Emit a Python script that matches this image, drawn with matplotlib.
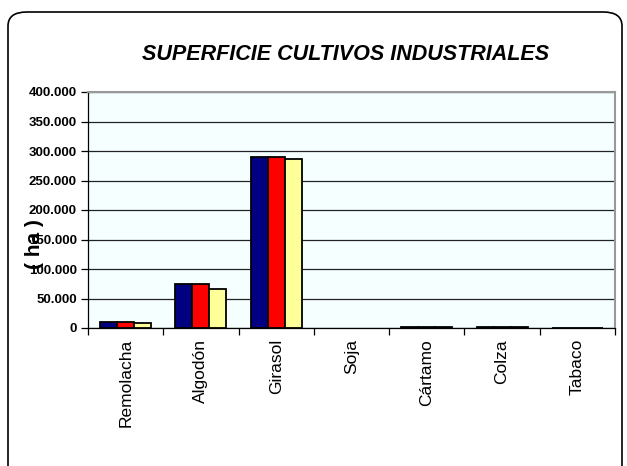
import numpy as np
import matplotlib.pyplot as plt
from matplotlib.patches import FancyBboxPatch
from matplotlib.ticker import FuncFormatter

# datos
cultivos = ['Remolacha', 'Algodón', 'Girasol', 'Soja', 'Cártamo', 'Colza', 'Tabaco']
serie_1 = [9500, 74000, 289000, 0, 1500, 1200, 600]
serie_2 = [9500, 74500, 289000, 0, 1500, 1300, 600]
serie_3 = [8000, 66000, 287000, 0, 1000, 1200, 500]
colores = ['#000080', '#FF0000', '#FFFF99']

plt.rcParams['font.family'] = ['Liberation Sans', 'DejaVu Sans']

fig = plt.figure(figsize=(6.27, 4.66), dpi=100)

# marco redondeado del gráfico
marco = FancyBboxPatch((8 / 627, -0.2), 614 / 627, 1.2 - 12 / 466,
                       boxstyle='round,pad=0,rounding_size=0.03',
                       transform=fig.transFigure, facecolor='white',
                       edgecolor='black', linewidth=1.2, zorder=-5)
fig.patches.append(marco)

ax = fig.add_axes([88 / 627, 1 - 328 / 466, (615 - 88) / 627, (328 - 92) / 466])
ax.set_zorder(2)
ax.set_facecolor('#F5FFFF')

x = np.arange(len(cultivos))
ancho = 0.226
for i, (serie, c) in enumerate(zip([serie_1, serie_2, serie_3], colores)):
    # sin borde cuando el valor es 0 (Soja no se ve en el original)
    bordes = [1.3 if v > 0 else 0 for v in serie]
    ax.bar(x + (i - 1) * ancho, serie, ancho, color=c, edgecolor='black',
           linewidth=bordes, zorder=3)

ax.set_xlim(-0.5, len(cultivos) - 0.5)
ax.set_ylim(0, 400000)
ax.set_yticks(np.arange(0, 400001, 50000))
ax.yaxis.set_major_formatter(FuncFormatter(lambda v, p: f'{int(v):,}'.replace(',', '.')))
ax.grid(axis='y', color='#222222', linewidth=0.9, zorder=1)

ax.set_xticks(x)
ax.set_xticklabels(cultivos, rotation=90, fontsize=12.5)
ax.set_xticks(np.arange(-0.5, len(cultivos)), minor=True)
ax.tick_params(axis='x', which='major', length=0, pad=8)
ax.tick_params(axis='x', which='minor', length=5, width=0.9, direction='out')
ax.tick_params(axis='y', length=5, width=0.9, direction='out', pad=3)
for t in ax.get_yticklabels():
    t.set_fontweight('bold')
    t.set_fontsize(9.5)

for lado in ['top', 'right']:
    ax.spines[lado].set_color('#999999')
    ax.spines[lado].set_linewidth(1.5)
ax.spines['left'].set_linewidth(0.9)
ax.spines['bottom'].set_linewidth(0.9)

fig.text(346 / 627, 1 - 55 / 466, 'SUPERFICIE CULTIVOS INDUSTRIALES',
         ha='center', va='center', fontsize=15.5, fontweight='bold',
         fontstyle='italic')
fig.text(35 / 627, 1 - 244 / 466, '( ha )', rotation=90, ha='center',
         va='center', fontsize=15, fontweight='bold', zorder=5)

fig.savefig('out.png', dpi=100)
